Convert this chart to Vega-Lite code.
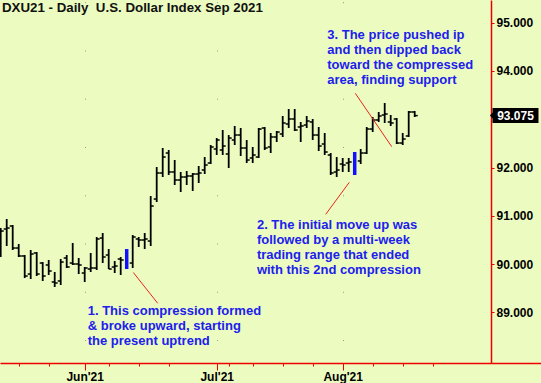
{
  "$schema": "https://vega.github.io/schema/vega-lite/v6.json",
  "width": 541,
  "height": 363,
  "autosize": {"type": "none"},
  "padding": {"left": 0, "top": 0, "right": 0, "bottom": 20},
  "background": "#ecfcc0",
  "title": {
    "text": "DXU21 - Daily\u00a0 U.S. Dollar Index Sep 2021",
    "anchor": "start",
    "frame": "group",
    "orient": "top",
    "baseline": "alphabetic",
    "offset": -25,
    "dx": 2,
    "font": "Liberation Sans",
    "fontSize": 13.3,
    "fontWeight": "bold",
    "color": "#111111"
  },
  "config": {
    "view": {"stroke": null},
    "axis": {"labelFont": "Liberation Sans", "labelFontSize": 12, "labelFontWeight": "bold", "labelColor": "#000000", "domainColor": "#ee0000", "tickColor": "#ee0000"}
  },
  "datasets": {
    "ohlc": [
      {"i":0,"date":"2021-05-11","open":90.249,"high":90.746,"low":90.146,"close":90.684,"compression":false},
      {"i":1,"date":"2021-05-12","open":90.726,"high":90.933,"low":90.374,"close":90.746,"compression":false},
      {"i":2,"date":"2021-05-13","open":90.788,"high":90.809,"low":90.291,"close":90.332,"compression":false},
      {"i":3,"date":"2021-05-14","open":90.332,"high":90.415,"low":90.146,"close":90.167,"compression":false},
      {"i":4,"date":"2021-05-17","open":90.167,"high":90.187,"low":89.711,"close":89.752,"compression":false},
      {"i":5,"date":"2021-05-18","open":89.793,"high":90.291,"low":89.690,"close":90.208,"compression":false},
      {"i":6,"date":"2021-05-19","open":90.229,"high":90.249,"low":89.752,"close":89.793,"compression":false},
      {"i":7,"date":"2021-05-20","open":90.021,"high":90.042,"low":89.649,"close":89.752,"compression":false},
      {"i":8,"date":"2021-05-21","open":89.980,"high":90.084,"low":89.773,"close":89.856,"compression":false},
      {"i":9,"date":"2021-05-24","open":89.628,"high":89.835,"low":89.524,"close":89.607,"compression":false},
      {"i":10,"date":"2021-05-25","open":89.649,"high":90.104,"low":89.566,"close":90.042,"compression":false},
      {"i":11,"date":"2021-05-26","open":90.125,"high":90.187,"low":89.918,"close":89.939,"compression":false},
      {"i":12,"date":"2021-05-27","open":90.021,"high":90.436,"low":89.980,"close":90.001,"compression":false},
      {"i":13,"date":"2021-05-28","open":90.001,"high":90.125,"low":89.793,"close":89.980,"compression":false},
      {"i":14,"date":"2021-06-01","open":89.814,"high":89.939,"low":89.628,"close":89.918,"compression":false},
      {"i":15,"date":"2021-06-02","open":89.897,"high":90.229,"low":89.835,"close":89.918,"compression":false},
      {"i":16,"date":"2021-06-03","open":89.918,"high":90.560,"low":89.876,"close":90.519,"compression":false},
      {"i":17,"date":"2021-06-04","open":90.539,"high":90.643,"low":90.021,"close":90.146,"compression":false},
      {"i":18,"date":"2021-06-07","open":90.187,"high":90.311,"low":89.897,"close":89.897,"compression":false},
      {"i":19,"date":"2021-06-08","open":89.939,"high":90.063,"low":89.814,"close":89.959,"compression":false},
      {"i":20,"date":"2021-06-09","open":90.104,"high":90.146,"low":89.773,"close":90.084,"compression":false},
      {"i":21,"date":"2021-06-10","open":90.042,"high":90.311,"low":89.897,"close":90.167,"compression":true},
      {"i":22,"date":"2021-06-11","open":90.021,"high":90.601,"low":89.918,"close":90.560,"compression":false},
      {"i":23,"date":"2021-06-14","open":90.519,"high":90.560,"low":90.353,"close":90.498,"compression":false},
      {"i":24,"date":"2021-06-15","open":90.498,"high":90.643,"low":90.311,"close":90.519,"compression":false},
      {"i":25,"date":"2021-06-16","open":90.477,"high":91.409,"low":90.374,"close":91.202,"compression":false},
      {"i":26,"date":"2021-06-17","open":91.347,"high":92.010,"low":91.285,"close":91.886,"compression":false},
      {"i":27,"date":"2021-06-18","open":91.886,"high":92.404,"low":91.803,"close":92.217,"compression":false},
      {"i":28,"date":"2021-06-21","open":92.300,"high":92.362,"low":91.845,"close":91.907,"compression":false},
      {"i":29,"date":"2021-06-22","open":91.907,"high":92.155,"low":91.637,"close":91.741,"compression":false},
      {"i":30,"date":"2021-06-23","open":91.741,"high":91.907,"low":91.492,"close":91.803,"compression":false},
      {"i":31,"date":"2021-06-24","open":91.803,"high":91.927,"low":91.637,"close":91.824,"compression":false},
      {"i":32,"date":"2021-06-25","open":91.824,"high":91.886,"low":91.513,"close":91.865,"compression":false},
      {"i":33,"date":"2021-06-28","open":91.865,"high":92.031,"low":91.679,"close":91.886,"compression":false},
      {"i":34,"date":"2021-06-29","open":91.948,"high":92.217,"low":91.865,"close":92.052,"compression":false},
      {"i":35,"date":"2021-06-30","open":92.093,"high":92.466,"low":92.072,"close":92.425,"compression":false},
      {"i":36,"date":"2021-07-01","open":92.383,"high":92.611,"low":92.259,"close":92.570,"compression":false},
      {"i":37,"date":"2021-07-02","open":92.362,"high":92.777,"low":92.259,"close":92.445,"compression":false},
      {"i":38,"date":"2021-07-06","open":92.280,"high":92.673,"low":91.989,"close":92.611,"compression":false},
      {"i":39,"date":"2021-07-07","open":92.570,"high":92.860,"low":92.466,"close":92.673,"compression":false},
      {"i":40,"date":"2021-07-08","open":92.673,"high":92.818,"low":92.238,"close":92.404,"compression":false},
      {"i":41,"date":"2021-07-09","open":92.404,"high":92.570,"low":92.093,"close":92.155,"compression":false},
      {"i":42,"date":"2021-07-12","open":92.197,"high":92.425,"low":92.093,"close":92.259,"compression":false},
      {"i":43,"date":"2021-07-13","open":92.217,"high":92.818,"low":92.197,"close":92.797,"compression":false},
      {"i":44,"date":"2021-07-14","open":92.818,"high":92.839,"low":92.362,"close":92.404,"compression":false},
      {"i":45,"date":"2021-07-15","open":92.425,"high":92.715,"low":92.300,"close":92.632,"compression":false},
      {"i":46,"date":"2021-07-16","open":92.632,"high":92.756,"low":92.528,"close":92.735,"compression":false},
      {"i":47,"date":"2021-07-19","open":92.694,"high":93.067,"low":92.632,"close":92.922,"compression":false},
      {"i":48,"date":"2021-07-20","open":92.901,"high":93.212,"low":92.818,"close":93.005,"compression":false},
      {"i":49,"date":"2021-07-21","open":93.005,"high":93.212,"low":92.756,"close":92.777,"compression":false},
      {"i":50,"date":"2021-07-22","open":92.839,"high":92.943,"low":92.528,"close":92.860,"compression":false},
      {"i":51,"date":"2021-07-23","open":92.880,"high":93.067,"low":92.818,"close":92.963,"compression":false},
      {"i":52,"date":"2021-07-26","open":92.943,"high":93.005,"low":92.570,"close":92.673,"compression":false},
      {"i":53,"date":"2021-07-27","open":92.673,"high":92.839,"low":92.342,"close":92.445,"compression":false},
      {"i":54,"date":"2021-07-28","open":92.487,"high":92.715,"low":92.259,"close":92.321,"compression":false},
      {"i":55,"date":"2021-07-29","open":92.259,"high":92.300,"low":91.845,"close":91.886,"compression":false},
      {"i":56,"date":"2021-07-30","open":91.907,"high":92.217,"low":91.803,"close":91.948,"compression":false},
      {"i":57,"date":"2021-08-02","open":92.072,"high":92.197,"low":91.907,"close":92.052,"compression":false},
      {"i":58,"date":"2021-08-03","open":92.093,"high":92.197,"low":91.907,"close":92.114,"compression":false},
      {"i":59,"date":"2021-08-04","open":91.948,"high":92.321,"low":91.845,"close":92.238,"compression":true},
      {"i":60,"date":"2021-08-05","open":92.135,"high":92.383,"low":92.072,"close":92.300,"compression":false},
      {"i":61,"date":"2021-08-06","open":92.300,"high":92.839,"low":92.280,"close":92.797,"compression":false},
      {"i":62,"date":"2021-08-09","open":92.797,"high":93.046,"low":92.735,"close":92.984,"compression":false},
      {"i":63,"date":"2021-08-10","open":92.984,"high":93.150,"low":92.943,"close":93.067,"compression":false},
      {"i":64,"date":"2021-08-11","open":93.088,"high":93.336,"low":92.922,"close":93.108,"compression":false},
      {"i":65,"date":"2021-08-12","open":92.943,"high":93.088,"low":92.860,"close":92.922,"compression":false},
      {"i":66,"date":"2021-08-13","open":93.005,"high":93.025,"low":92.487,"close":92.507,"compression":false},
      {"i":67,"date":"2021-08-16","open":92.507,"high":92.715,"low":92.466,"close":92.590,"compression":false},
      {"i":68,"date":"2021-08-17","open":92.653,"high":93.170,"low":92.632,"close":93.150,"compression":false},
      {"i":69,"date":"2021-08-18","open":93.150,"high":93.170,"low":93.046,"close":93.075,"compression":false}
    ],
    "notes": [
      {"x": 14.5, "y": 88.94, "lines": ["1. This compression formed", "& broke upward, starting", "the present uptrend"]},
      {"x": 42.7, "y": 90.73, "lines": ["2. The initial move up was", "followed by a multi-week", "trading range that ended", "with this 2nd compression"]},
      {"x": 54.43, "y": 94.666, "lines": ["3. The price pushed ip", "and then dipped back", "toward the compressed", "area, finding support"]}
    ],
    "pointers": [
      {"x": 22.1, "y": 89.825, "x2": 26.17, "y2": 89.187},
      {"x": 58.1, "y": 91.693, "x2": 54.17, "y2": 91.03},
      {"x": 59.1, "y": 93.537, "x2": 65.17, "y2": 92.431}
    ],
    "last": [{"price": 93.075, "label": "93.075"}]
  },
  "resolve": {"axis": {"x": "independent", "y": "independent"}},
  "layer": [
    {
      "data": {"name": "ohlc"},
      "mark": {"type": "rule"},
      "encoding": {
        "x": {
          "field": "i", "type": "quantitative",
          "scale": {"domain": [-0.1167, 90.05], "nice": false, "zero": false},
          "axis": {
            "orient": "bottom", "title": null,
            "values": [14, 36, 57],
            "labelExpr": "datum.value == 14 ? \"Jun'21\" : datum.value == 36 ? \"Jul'21\" : \"Aug'21\"",
            "tickSize": 7, "labelPadding": 1, "domainWidth": 1.5,
            "grid": true, "gridColor": "#999999", "gridDash": [1, 47.27], "gridDashOffset": 46.6, "gridWidth": 1
          }
        },
        "y": {
          "field": "low", "type": "quantitative",
          "scale": {"domain": [87.95, 95.47], "nice": false, "zero": false},
          "axis": {
            "orient": "right", "title": null, "offset": -50, "values": [89, 90, 91, 92, 94, 95], "format": ".3f",
            "tickSize": 3, "labelPadding": 2, "domainWidth": 1.5, "grid": false
          }
        },
        "y2": {"field": "high"},
        "color": {"condition": {"test": "datum.compression", "value": "#1010ff"}, "value": "#000000"},
        "strokeWidth": {"condition": {"test": "datum.compression", "value": 3.5}, "value": 1.8}
      }
    },
    {
      "data": {"name": "ohlc"},
      "transform": [{"filter": "!datum.compression"}],
      "mark": {"type": "rule", "color": "#000000", "strokeWidth": 1.5, "xOffset": -3, "x2Offset": 0},
      "encoding": {
        "x": {"field": "i", "type": "quantitative", "axis": null},
        "x2": {"field": "i"},
        "y": {"field": "open", "type": "quantitative", "axis": null}
      }
    },
    {
      "data": {"name": "ohlc"},
      "transform": [{"filter": "!datum.compression"}],
      "mark": {"type": "rule", "color": "#000000", "strokeWidth": 1.5, "xOffset": 0, "x2Offset": 3},
      "encoding": {
        "x": {
          "field": "i", "type": "quantitative",
          "axis": {"orient": "bottom", "title": null, "values": [3, 8, 18, 23, 28, 38, 42, 47, 52, 62, 67, 72], "labels": false, "domain": false, "tickSize": 3, "grid": false}
        },
        "x2": {"field": "i"},
        "y": {"field": "close", "type": "quantitative", "axis": null}
      }
    },
    {
      "data": {"name": "pointers"},
      "mark": {"type": "rule", "color": "#ee2222", "strokeWidth": 1},
      "encoding": {
        "x": {"field": "x", "type": "quantitative", "axis": null},
        "x2": {"field": "x2"},
        "y": {"field": "y", "type": "quantitative", "axis": null},
        "y2": {"field": "y2"}
      }
    },
    {
      "data": {"name": "notes"},
      "mark": {"type": "text", "align": "left", "baseline": "alphabetic", "font": "Liberation Sans", "fontSize": 13, "fontWeight": "bold", "color": "#2020ee", "lineHeight": 15},
      "encoding": {
        "x": {"field": "x", "type": "quantitative", "axis": null},
        "y": {"field": "y", "type": "quantitative", "axis": null},
        "text": {"field": "lines"}
      }
    },
    {
      "data": {"name": "last"},
      "mark": {"type": "point", "filled": true, "opacity": 1, "color": "#000000", "size": 2116, "shape": "M-1.11,0 L-1,-0.13 L-1,-0.326 L1,-0.326 L1,0.326 L-1,0.326 L-1,0.13 Z"},
      "encoding": {
        "x": {"datum": 85.8, "type": "quantitative", "axis": null},
        "y": {"field": "price", "type": "quantitative", "axis": null}
      }
    },
    {
      "data": {"name": "last"},
      "mark": {"type": "text", "align": "center", "baseline": "middle", "font": "Liberation Sans", "fontSize": 12, "fontWeight": "bold", "color": "#ffffff"},
      "encoding": {
        "x": {"datum": 85.8, "type": "quantitative", "axis": null},
        "y": {"field": "price", "type": "quantitative", "axis": null},
        "text": {"field": "label"}
      }
    }
  ]
}
